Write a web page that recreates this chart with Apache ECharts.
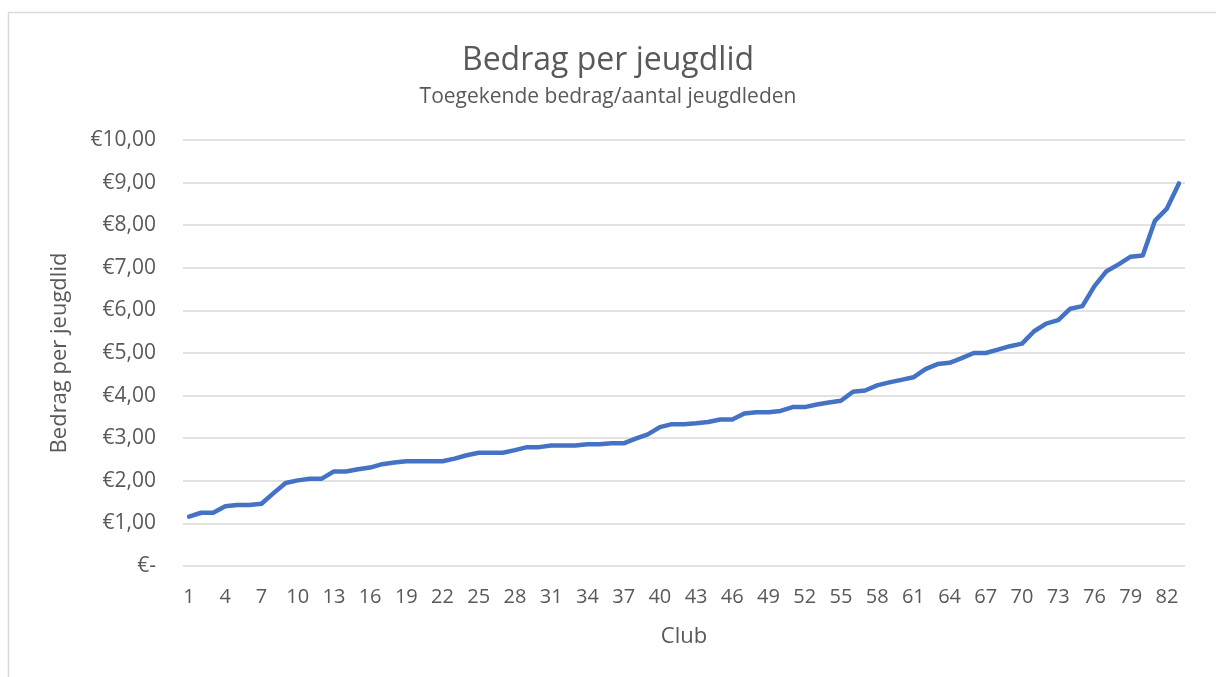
<html>
<head>
    <title>Bedrag per jeugdlid</title>
    <meta http-equiv="Content-Type" content="text/html; charset=utf-8" />
    <style>body{margin:0;background:#fff;}</style>
</head>
<body>
<div id="chart" style="width: 1216px;height: 677px"></div>
<script type="text/javascript" src="https://cdn.jsdelivr.net/npm/echarts@6/dist/echarts.min.js"></script>
<script type="text/javascript">
// clubs 1..83
var clubs = [];
for (var i = 1; i <= 83; i++) {
    clubs.push(String(i));
}
var bedrag = [
    1.16, 1.25, 1.25, 1.40, 1.43, 1.43, 1.46, 1.71, 1.95, 2.01,
    2.05, 2.05, 2.22, 2.22, 2.27, 2.31, 2.39, 2.43, 2.46, 2.46,
    2.46, 2.46, 2.52, 2.60, 2.66, 2.66, 2.66, 2.72, 2.79, 2.79,
    2.83, 2.83, 2.83, 2.86, 2.86, 2.88, 2.88, 2.99, 3.09, 3.26,
    3.33, 3.33, 3.35, 3.38, 3.44, 3.44, 3.58, 3.61, 3.61, 3.64,
    3.73, 3.73, 3.79, 3.84, 3.88, 4.09, 4.12, 4.24, 4.31, 4.37,
    4.43, 4.62, 4.74, 4.77, 4.88, 5.00, 5.00, 5.08, 5.16, 5.22,
    5.51, 5.69, 5.77, 6.04, 6.10, 6.57, 6.92, 7.08, 7.26, 7.29,
    8.10, 8.39, 8.98
];

var myChart = echarts.init(document.getElementById('chart'));
var font = 'Open Sans';
var option = {
    animation: false,
    backgroundColor: '#fff',
    title: {
        text: 'Bedrag per jeugdlid',
        subtext: 'Toegekende bedrag/aantal jeugdleden',
        left: 'center',
        top: 40,
        itemGap: 10,
        textStyle: { fontFamily: font, fontSize: 32, fontWeight: 'normal', color: '#595959' },
        subtextStyle: { fontFamily: font, fontSize: 21, color: '#595959' }
    },
    graphic: [{
        type: 'rect',
        shape: { x: 8.5, y: 12.5, width: 1220, height: 700 },
        style: { fill: 'none', stroke: '#d9d9d9', lineWidth: 1.5 },
        silent: true
    }],
    grid: { left: 183, right: 31, top: 140, bottom: 111 },
    xAxis: {
        type: 'category',
        data: clubs,
        name: 'Club',
        nameLocation: 'middle',
        nameGap: 60,
        nameTextStyle: { fontFamily: font, fontSize: 22, color: '#595959' },
        axisLine: { show: false },
        axisTick: { show: false },
        axisLabel: { interval: 2, margin: 21, fontFamily: font, fontSize: 20, color: '#595959' }
    },
    yAxis: {
        type: 'value',
        min: 0,
        max: 10,
        interval: 1,
        name: 'Bedrag per jeugdlid',
        nameLocation: 'middle',
        nameGap: 112,
        nameTextStyle: { fontFamily: font, fontSize: 22, color: '#595959' },
        axisLine: { show: false },
        axisTick: { show: false },
        axisLabel: {
            margin: 27,
            fontFamily: font,
            fontSize: 21,
            color: '#595959',
            formatter: function (v) {
                if (v === 0) return '€-';
                return '€' + v.toFixed(2).replace('.', ',');
            }
        },
        splitLine: { lineStyle: { color: '#d9d9d9', width: 1.5 } }
    },
    series: [{
        name: 'Bedrag per jeugdlid',
        type: 'line',
        data: bedrag,
        symbol: 'none',
        lineStyle: { color: '#4472C4', width: 4.5, cap: 'round', join: 'round' }
    }]
};
myChart.setOption(option);
</script>
</body>
</html>
